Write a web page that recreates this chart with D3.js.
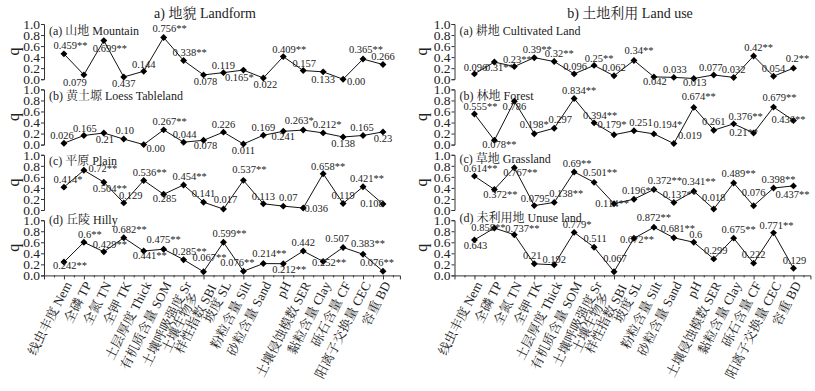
<!DOCTYPE html>
<html><head><meta charset="utf-8">
<script src="https://cdn.jsdelivr.net/npm/d3@7"></script>
<style>
body{margin:0;background:#fff;}
svg{display:block;}
text{font-family:"Liberation Serif","Times New Roman","Noto Serif CJK SC","Noto Sans CJK SC",serif;fill:#222;}
</style></head>
<body>
<svg id="chart" width="815" height="391"></svg>
<script>
const categories = ["线虫丰度 Nem","全磷 TP","全氮 TN","全钾 TK","土层厚度 Thick","有机质含量 SOM","土壤呼吸强度 Sr","土壤生物多\n样性指数 SBI","坡度 SL","粉粒含量 Silt","砂粒含量 Sand","pH","土壤侵蚀模数 SER","黏粒含量 Clay","砾石含量 CF","阳离子交换量 CEC","容重 BD"];
const yTicks = [0, 0.2, 0.4, 0.6, 0.8, 1.0];

const titleLandform = "a) 地貌 Landform";
const titleLanduse = "b) 土地利用 Land use";
const landformNames = ["(a) 山地 Mountain","(b) 黄土塬 Loess Tableland","(c) 平原 Plain","(d) 丘陵 Hilly"];
const landuseNames = ["(a) 耕地 Cultivated Land","(b) 林地 Forest","(c) 草地 Grassland","(d) 未利用地 Unuse land"];

const mountainQ = [0.459,0.079,0.699,0.04,0.144,0.756,0.338,0.078,0.119,0.165,0.022,0.409,0.157,0.133,0.00,0.365,0.266];
const mountainLbl = ["0.459**","0.079","0.699**","0.437","0.144","0.756**","0.338**","0.078","0.119","0.165*","0.022","0.409**","0.157","0.133","0.00","0.365**","0.266"];
const loessQ = [0.026,0.165,0.21,0.10,0.00,0.267,0.044,0.078,0.226,0.011,0.169,0.241,0.263,0.212,0.138,0.165,0.23];
const loessLbl = ["0.026","0.165","0.21","0.10","0.00","0.267**","0.044","0.078","0.226","0.011","0.169","0.241","0.263*","0.212*","0.138","0.165","0.23"];
const plainQ = [0.414,0.72,0.504,0.129,0.536,0.285,0.454,0.141,0.017,0.537,0.113,0.07,0.036,0.658,0.119,0.421,0.108];
const plainLbl = ["0.414*","0.72**","0.504**","0.129","0.536**","0.285","0.454**","0.141","0.017","0.537**","0.113","0.07","0.036","0.658**","0.119","0.421**","0.108"];
const hillyQ = [0.242,0.6,0.429,0.682,0.441,0.475,0.285,0.067,0.599,0.076,0.214,0.212,0.442,0.252,0.507,0.383,0.076];
const hillyLbl = ["0.242**","0.6**","0.429**","0.682**","0.441**","0.475**","0.285**","0.067**","0.599**","0.076**","0.214**","0.212**","0.442","0.252**","0.507","0.383**","0.076**"];

const cultivatedQ = [0.096,0.31,0.23,0.39,0.32,0.096,0.25,0.062,0.34,0.042,0.033,0.013,0.077,0.032,0.42,0.054,0.2];
const cultivatedLbl = ["0.096","0.31**","0.23**","0.39**","0.32**","0.096","0.25**","0.062","0.34**","0.042","0.033","0.013","0.077","0.032","0.42**","0.054","0.2**"];
const forestQ = [0.555,0.078,0.786,0.198,0.297,0.834,0.394,0.179,0.251,0.194,0.019,0.674,0.261,0.376,0.21,0.679,0.436];
const forestLbl = ["0.555**","0.078**","0.786","0.198*","0.297","0.834**","0.394**","0.179*","0.251","0.194*","0.019","0.674**","0.261","0.376**","0.21**","0.679**","0.436**"];
const grassQ = [0.614,0.372,0.767,0.0795,0.138,0.69,0.501,0.114,0.196,0.372,0.137,0.341,0.018,0.489,0.076,0.398,0.437];
const grassLbl = ["0.614**","0.372**","0.767**","0.0795","0.138**","0.69**","0.501**","0.114**","0.196**","0.372**","0.137**","0.341**","0.018","0.489**","0.076","0.398**","0.437**"];
const unuseQ = [0.643,0.858,0.737,0.21,0.192,0.779,0.511,0.067,0.672,0.872,0.681,0.6,0.299,0.675,0.222,0.771,0.129];
const unuseLbl = ["0.643","0.858**","0.737**","0.21","0.192","0.779*","0.511","0.067","0.672**","0.872**","0.681**","0.6","0.299","0.675**","0.222","0.771**","0.129"];

// label placement (layout only): [dx, dy] from the marker
const offMountain = [[6.5,-5],[-9,11],[6,11],[0,10],[0,-3],[6,-5],[6,-5],[2,10],[0,-4],[-4,11],[2,10],[6,-4],[1,-4],[0,11],[13,6],[3,-6],[0,-5]];
const offLoess = [[-2,-4],[1,-3],[1,10],[1,-5],[12,7],[6,-5],[1,-4],[2,9],[0,-4],[0,10],[0,-4],[0,9],[-4,-6],[4,-5],[0,10],[-1,-4],[0,10]];
const offPlain = [[4,-4],[19,2],[6,10],[7,-4],[6,-4],[1,8],[6,-5],[0,-5],[2,-6],[6,-7],[0,-4],[5,-5],[13,4],[5,-4],[0,-4],[4,-5],[-11,3]];
const offHilly = [[6,7],[6,-4],[6,-4],[6,-5],[6,8],[0,-6],[6,-5],[6,-11],[6,-5],[-6,-5],[6,-7],[6,9],[0,-5],[6,5],[-6,-5],[5,-7],[-6,-5]];
const offCult = [[1,-3],[5,9],[3,-4],[3,-5],[5,-5],[1,-4],[5,-3],[0,-5],[5,-6],[1,8],[1,-4],[1,8],[-3,-4],[0,-4],[5,-5],[0,-4],[4,-6]];
const offForest = [[6,-4],[5,8],[0,9],[0,-6],[6,-5],[5,-5],[6,-4],[-2,-7],[7,-5],[14,-6],[16,-5],[5,-7],[0,-5],[12,-4],[-10,3],[6,-6],[-5,2]];
const offGrass = [[6,-4],[6,9],[6,8],[1,-4],[12,-5],[3,-5],[6,-6],[-2,3],[5,-5],[11,-5],[6,-4],[5,-6],[0,-8],[5,-6],[0,-10],[5,-5],[-1,12]];
const offUnuse = [[1,9],[-6,3],[8,-3],[-2,-5],[0,-2],[3,-4],[1,-5],[1,-10],[3,5],[0,-6],[4,-6],[2,-4],[2,-5],[5,-5],[0,-5],[3,-4],[1,-4]];

const svg = d3.select("#chart");
const panelTops = [24, 89.4, 154.8, 220.2];
const panelH = 55.2;

function drawGroup(opt){
  const g = svg.append("g");
  const idx = d3.range(categories.length);
  const x = d3.scaleLinear().domain([-1, 16.85]).range([opt.axisX, opt.axisX + 17.85*19.94]);
  g.append("text").attr("x", opt.titleX).attr("y", 18).attr("text-anchor","middle")
    .style("font-size","14px").text(opt.title);
  opt.series.forEach((s, pi) => {
    const top = panelTops[pi];
    const y = d3.scaleLinear().domain([0,1]).range([top+panelH, top]);
    const ax = g.append("g").attr("transform", `translate(${opt.axisX},0)`)
      .call(d3.axisLeft(y).tickValues(yTicks).tickFormat(d3.format(".1f")).tickSize(3).tickPadding(1));
    ax.select(".domain").attr("stroke","#333");
    ax.selectAll(".tick line").attr("stroke","#333");
    ax.selectAll(".tick text").style("font-size","13.5px").style("font-family","Liberation Serif").attr("fill","#222");
    g.append("text").attr("transform", `translate(${opt.qX},${top+panelH/2}) rotate(-90)`)
      .attr("text-anchor","middle").style("font-size","16px").text("q");
    g.append("text").attr("x", opt.axisX+5).attr("y", top + opt.nameDy[pi]).style("font-size","12px").text(s.name);
    const line = d3.line().x(i => x(i)).y(i => y(s.q[i]));
    g.append("path").attr("d", line(idx)).attr("fill","none").attr("stroke","#111").attr("stroke-width",1);
    g.selectAll(null).data(idx).enter().append("path")
      .attr("d", d3.symbol().type(d3.symbolSquare).size(24)())
      .attr("transform", i => `translate(${x(i)},${y(s.q[i])}) rotate(45)`)
      .attr("fill","#000");
    g.selectAll(null).data(idx).enter().append("text")
      .attr("x", i => x(i) + s.off[i][0]).attr("y", i => y(s.q[i]) + s.off[i][1])
      .attr("text-anchor","middle").style("font-size","10.5px").text(i => s.lbl[i]);
  });
  // bottom x axis
  const yb = panelTops[3] + panelH;
  const xa = g.append("g").attr("transform", `translate(0,${yb})`)
    .call(d3.axisBottom(x).tickValues(idx).tickFormat("").tickSize(4));
  xa.select(".domain").attr("stroke","#333");
  xa.selectAll(".tick line").attr("stroke","#333");
  g.append("g").attr("transform", `translate(0,${yb})`)
    .call(d3.axisBottom(x).tickValues(idx.map(i => i - 0.5).concat([16.5])).tickFormat("").tickSize(2))
    .call(a => a.select(".domain").remove()).selectAll(".tick line").attr("stroke","#333");
  const lab = g.selectAll(null).data(idx).enter().append("text")
    .attr("transform", i => `translate(${x(i)+4},${yb+7}) rotate(-63)`)
    .attr("text-anchor","end").style("font-size","13px");
  lab.each(function(i){
    const parts = categories[i].split("\n");
    const t = d3.select(this);
    parts.forEach((p, k) => {
      const sp = t.append("tspan").attr("x",0)
        .attr("dy", k===0 ? (parts.length>1 ? "-0.15em" : "0.35em") : "0.95em").text(p);
      if (parts.length > 1 && k === 0) sp.attr("dx","-1.2em");
    });
  });
}

drawGroup({axisX:44, qX:18.5, titleX:205, title:titleLandform, nameDy:[11,11,10,4], series:[
  {name:landformNames[0], q:mountainQ, lbl:mountainLbl, off:offMountain},
  {name:landformNames[1], q:loessQ, lbl:loessLbl, off:offLoess},
  {name:landformNames[2], q:plainQ, lbl:plainLbl, off:offPlain},
  {name:landformNames[3], q:hillyQ, lbl:hillyLbl, off:offHilly}]});
drawGroup({axisX:454.5, qX:426.5, titleX:630, title:titleLanduse, nameDy:[11,11,8,2], series:[
  {name:landuseNames[0], q:cultivatedQ, lbl:cultivatedLbl, off:offCult},
  {name:landuseNames[1], q:forestQ, lbl:forestLbl, off:offForest},
  {name:landuseNames[2], q:grassQ, lbl:grassLbl, off:offGrass},
  {name:landuseNames[3], q:unuseQ, lbl:unuseLbl, off:offUnuse}]});
</script>
</body></html>
